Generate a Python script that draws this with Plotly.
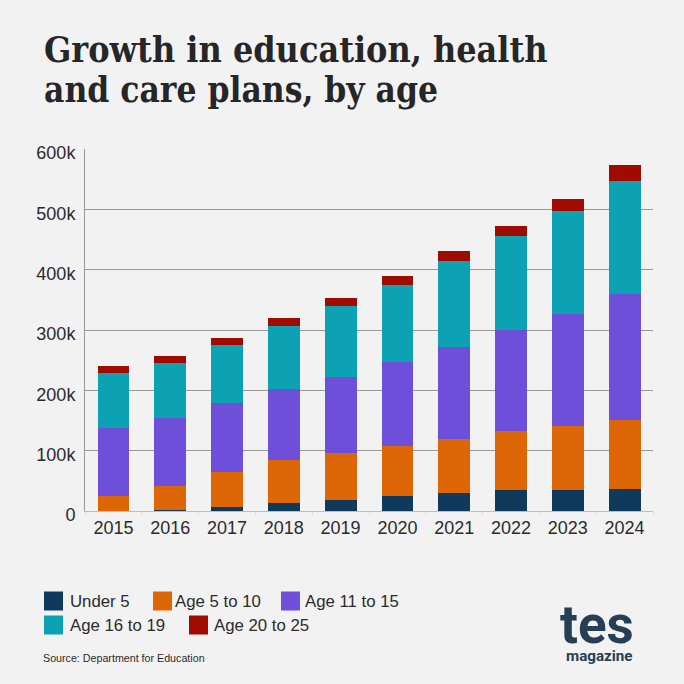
import plotly.graph_objects as go

years = ["2015", "2016", "2017", "2018", "2019", "2020", "2021", "2022", "2023", "2024"]

# thousands of plans
under_5 = [0, 1, 7, 13.3, 18.3, 24.9, 29.3, 34.3, 34.9, 36]
age_5_10 = [24.9, 41, 58.3, 70.8, 78, 83, 90.8, 98.5, 105.7, 114.5]
age_11_15 = [112.9, 111.9, 112.9, 117.4, 125.7, 138.4, 151.7, 167.2, 186.5, 208.7]
age_16_19 = [90.8, 91.9, 97.4, 105.7, 117.8, 128.4, 142.2, 155, 169.4, 187.1]
age_20_25 = [11.6, 10.5, 11.7, 12.7, 13.9, 15.5, 16.6, 18.2, 20.5, 26.6]

names = ["Under 5", "Age 5 to 10", "Age 11 to 15", "Age 16 to 19", "Age 20 to 25"]
series = [under_5, age_5_10, age_11_15, age_16_19, age_20_25]
colors = ["#0f3a5c", "#dd6706", "#6d4fd9", "#0da2b3", "#a00b00"]

tick_vals = [0, 100, 200, 300, 400, 500, 600]
tick_text = ["0", "100k", "200k", "300k", "400k", "500k", "600k"]

W = 684
H = 684
L, R, T, B = 85, 31, 149, 173
BG = "#f3f2f3"
SANS = "Liberation Sans"
SERIF = "DejaVu Serif Condensed"

fig = go.Figure()
for name, vals, col in zip(names, series, colors):
    fig.add_trace(go.Bar(x=years, y=vals, name=name, marker=dict(color=col, line=dict(width=0)), width=0.56))


# paper coordinates run over the plot area, so convert from page pixels
def px(x):
    return (x - L) / (W - L - R)


def py(y):
    return 1 - (y - T) / (H - T - B)


def text(x, y, s, size, color="#2b2b2b", family=SANS, xanchor="left"):
    return dict(x=px(x), y=py(y), xref="paper", yref="paper", text=s, showarrow=False,
                xanchor=xanchor, yanchor="middle", align="left",
                font=dict(size=size, color=color, family=family))


annotations = [
    text(42, 50, "<b>Growth in education, health</b>", 35.6, "#262626", SERIF),
    text(42, 90, "<b>and care plans, by age</b>", 35, "#262626", SERIF),
    text(41, 658, "Source: Department for Education", 10.7),
    text(597, 625, "<b>tes</b>", 53, "#263f55", "Roboto", "center"),
    text(599, 656, "<b>magazine</b>", 15.2, "#263f55", "Roboto", "center"),
]

# legend keys: (key left, label left, row centre)
key_pos = [(44, 68, 601), (153, 173, 601), (281, 303, 601), (44, 68, 625), (189, 212, 625)]
shapes = []
for (kx, tx, cy), name, col in zip(key_pos, names, colors):
    shapes.append(dict(type="rect", xref="paper", yref="paper", x0=px(kx), x1=px(kx + 19),
                       y0=py(cy + 9.5), y1=py(cy - 9.5), fillcolor=col, line=dict(width=0)))
    annotations.append(text(tx, cy, name, 16.8, family=SANS))

fig.update_layout(
    barmode="stack",
    width=W,
    height=H,
    margin=dict(l=L, r=R, t=T, b=B, pad=0),
    paper_bgcolor=BG,
    plot_bgcolor=BG,
    showlegend=False,
    annotations=annotations,
    shapes=shapes,
    font=dict(family=SANS, color="#2b2b2b", size=18),
    bargap=0.44,
)
fig.update_xaxes(type="category", tickson="boundaries", ticks="outside", ticklen=3, tickcolor="#dddddd",
                 showline=True, linecolor="#bdbdbd", linewidth=1, showgrid=False, tickfont=dict(size=18))
fig.update_yaxes(range=[0, 600], tickvals=tick_vals, ticktext=tick_text, showgrid=True, gridcolor="#999999",
                 gridwidth=1, zeroline=False, showline=True, linecolor="#999999", linewidth=1,
                 ticks="", ticklabelstandoff=5, ticklabelshift=4, tickfont=dict(size=18))

fig.write_html("out.html", config=dict(displayModeBar=False), post_script="document.body.style.margin='0';")
